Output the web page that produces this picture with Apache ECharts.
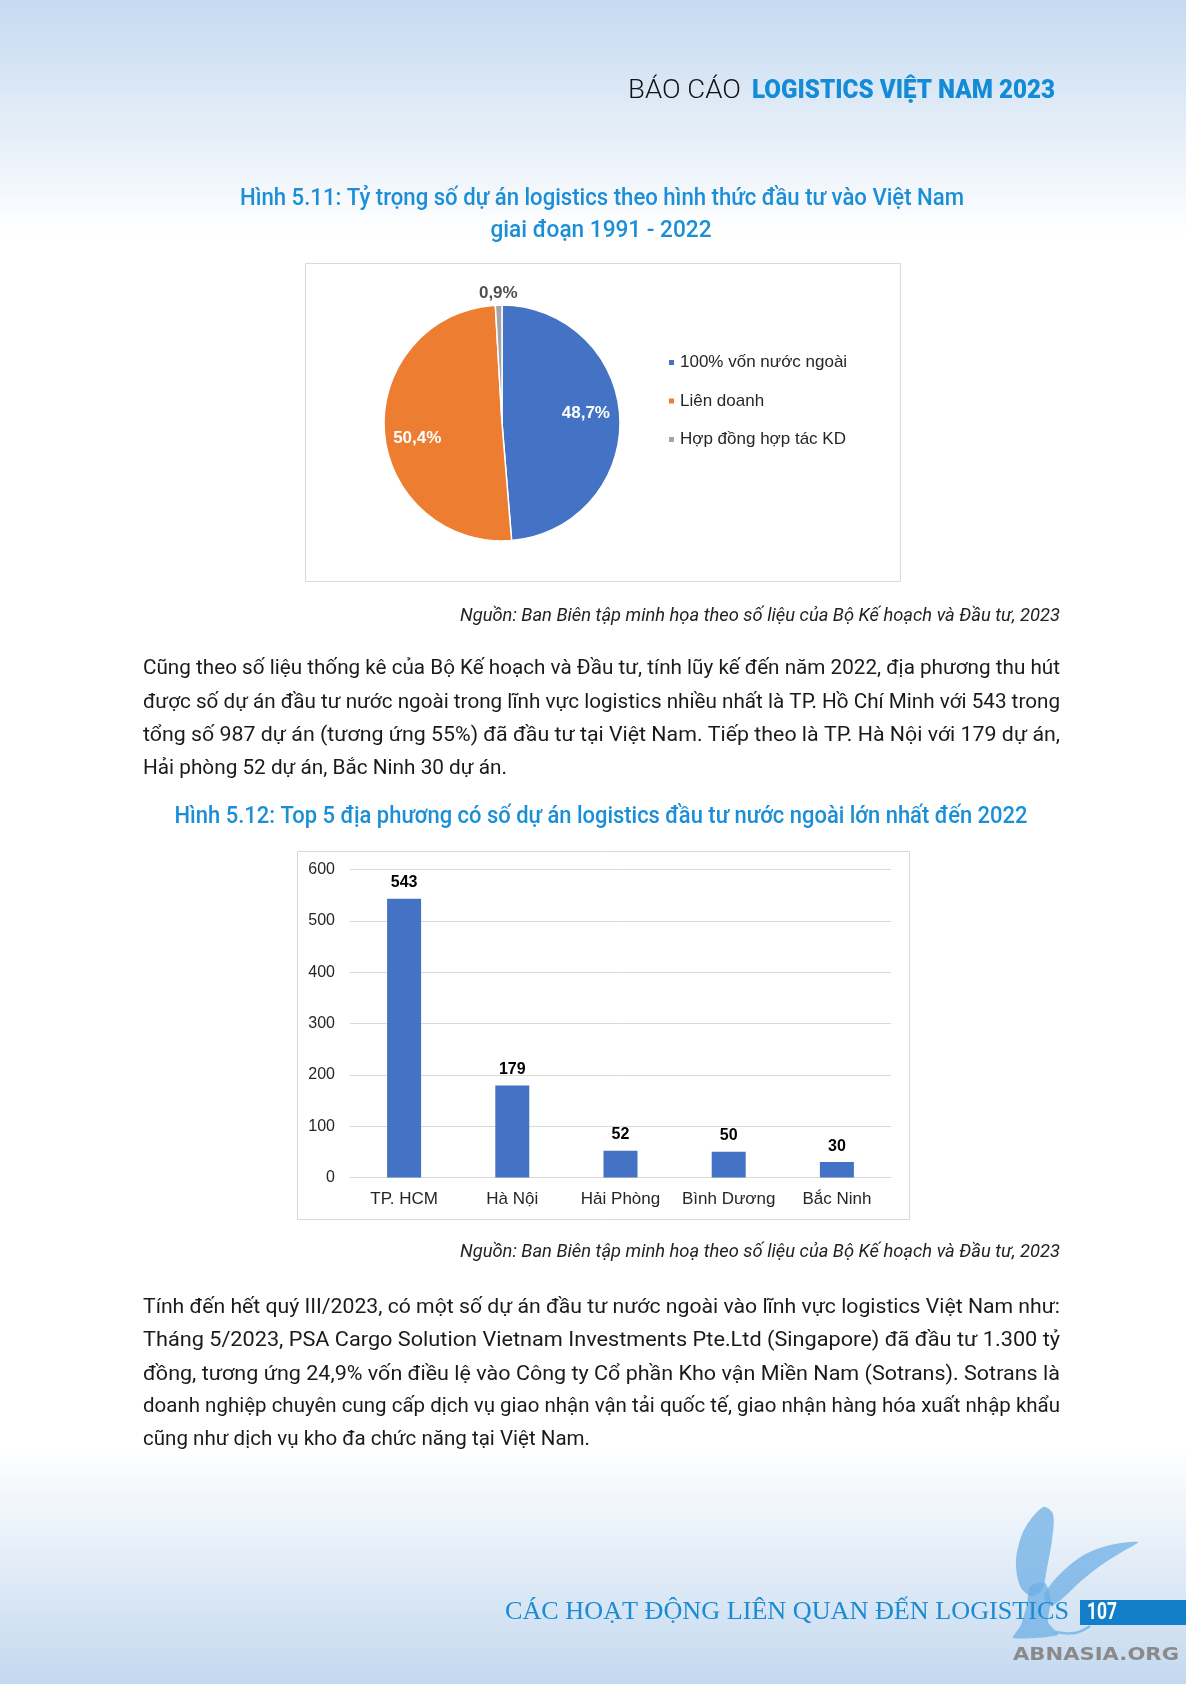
<!DOCTYPE html>
<html><head><meta charset="utf-8">
<script src="https://cdn.jsdelivr.net/npm/echarts@6/dist/echarts.min.js"></script>
<style>html,body{margin:0;padding:0;background:#fff;} #c{width:1186px;height:1684px;}</style>
</head><body><div id="c"></div>
<script>
// ---------- DATA ----------
const pieNames = ['100% vốn nước ngoài', 'Liên doanh', 'Hợp đồng hợp tác KD'];
const pieValues = [48.7, 50.4, 0.9];
const pieColors = ['#4472c4', '#ed7d31', '#a5a5a5'];

const barCategories = ['TP. HCM', 'Hà Nội', 'Hải Phòng', 'Bình Dương', 'Bắc Ninh'];
const barValues = [543, 179, 52, 50, 30];
const yAxisMin = 0, yAxisMax = 600, yAxisStep = 100;

const headerLight = 'BÁO CÁO';
const headerBold = 'LOGISTICS VIỆT NAM 2023';
const title511 = ['Hình 5.11: Tỷ trọng số dự án logistics theo hình thức đầu tư vào Việt Nam', 'giai đoạn 1991 - 2022'];
const title512 = 'Hình 5.12: Top 5 địa phương có số dự án logistics đầu tư nước ngoài lớn nhất đến 2022';
const source1 = 'Nguồn: Ban Biên tập minh họa theo số liệu của Bộ Kế hoạch và Đầu tư, 2023';
const source2 = 'Nguồn: Ban Biên tập minh hoạ theo số liệu của Bộ Kế hoạch và Đầu tư, 2023';
const para1Lines = [
  'Cũng theo số liệu thống kê của Bộ Kế hoạch và Đầu tư, tính lũy kế đến năm 2022, địa phương thu hút',
  'được số dự án đầu tư nước ngoài trong lĩnh vực logistics nhiều nhất là TP. Hồ Chí Minh với 543 trong',
  'tổng số 987 dự án (tương ứng 55%) đã đầu tư tại Việt Nam. Tiếp theo là TP. Hà Nội với 179 dự án,',
  'Hải phòng 52 dự án, Bắc Ninh 30 dự án.'
];
const para2Lines = [
  'Tính đến hết quý III/2023, có một số dự án đầu tư nước ngoài vào lĩnh vực logistics Việt Nam như:',
  'Tháng 5/2023, PSA Cargo Solution Vietnam Investments Pte.Ltd (Singapore) đã đầu tư 1.300 tỷ',
  'đồng, tương ứng 24,9% vốn điều lệ vào Công ty Cổ phần Kho vận Miền Nam (Sotrans). Sotrans là',
  'doanh nghiệp chuyên cung cấp dịch vụ giao nhận vận tải quốc tế, giao nhận hàng hóa xuất nhập khẩu',
  'cũng như dịch vụ kho đa chức năng tại Việt Nam.'
];
const footerText = 'CÁC HOẠT ĐỘNG LIÊN QUAN ĐẾN LOGISTICS';
const pageNumber = '107';
const watermark = 'ABNASIA.ORG';

// ---------- helpers ----------
const mctx = document.createElement('canvas').getContext('2d');
function measure(t, f) {
  mctx.font = (f.style || 'normal') + ' ' + (f.weight || 'normal') + ' ' + f.size + 'px ' + f.family;
  return mctx.measureText(t).width;
}
function fitText(t, x, y, w, f, color, align) {
  const m = measure(t, f);
  return {
    type: 'text', x: x, y: y, scaleX: w / m, silent: true, z: 10,
    style: { text: t, fill: color, fontSize: f.size, fontFamily: f.family, fontWeight: f.weight || 'normal',
      fontStyle: f.style || 'normal', align: align || 'left', verticalAlign: 'middle' }
  };
}
const fmtPct = v => v.toFixed(1).replace('.', ',') + '%';

// ---------- graphics ----------
const TEXT_L = 143, TEXT_R = 1060, TEXT_W = TEXT_R - TEXT_L;
const bodyFont = { family: 'Roboto', size: 21, weight: 400 };
const titleFont = { family: 'Roboto', size: 23, weight: 500 };
const srcFont = { family: 'Roboto', size: 18, weight: 400, style: 'italic' };
const blue = '#1a8ed6';

const g = [];
// boxes
g.push({ type: 'rect', shape: { x: 305.5, y: 263.5, width: 595, height: 318 }, style: { fill: '#fff', stroke: '#d9d9d9', lineWidth: 1 }, z: -1, silent: true });
g.push({ type: 'rect', shape: { x: 297.5, y: 851.5, width: 612, height: 368 }, style: { fill: '#fff', stroke: '#d9d9d9', lineWidth: 1 }, z: -1, silent: true });

// header
g.push(fitText(headerLight, 628, 92, 113, { family: 'Roboto', size: 25, weight: 300 }, '#111', 'left'));
g.push(fitText(headerBold, 752, 92, 303, { family: 'Roboto', size: 25, weight: 900 }, '#138bd6', 'left'));

// titles
g.push(fitText(title511[0], 602, 199, 724, titleFont, blue, 'center'));
g.push(fitText(title511[1], 601, 231, 221, titleFont, blue, 'center'));
g.push(fitText(title512, 601, 817, 853, titleFont, blue, 'center'));

// sources
g.push(fitText(source1, TEXT_R, 616, 600, srcFont, '#222', 'right'));
g.push(fitText(source2, TEXT_R, 1252, 600, srcFont, '#222', 'right'));

// paragraphs
const p1Y = [669, 702.5, 736, 769];
const p1W = [TEXT_W, TEXT_W, TEXT_W, 364];
para1Lines.forEach((t, i) => g.push(fitText(t, TEXT_L, p1Y[i], p1W[i], bodyFont, '#1a1a1a', 'left')));
const p2Y = [1307.5, 1341, 1374.5, 1407, 1440];
const p2W = [TEXT_W, TEXT_W, TEXT_W, TEXT_W, 447];
para2Lines.forEach((t, i) => g.push(fitText(t, TEXT_L, p2Y[i], p2W[i], bodyFont, '#1a1a1a', 'left')));

// griffin decoration (approximate)
const griffinStyle = { fill: 'rgba(110,175,228,0.75)' };
g.push({ type: 'polygon', silent: true, z: 5, style: griffinStyle, shape: { smooth: 0.3, points: [[1043,1507],[1053,1514],[1052,1540],[1047,1568],[1042,1590],[1031,1596],[1020,1586],[1016,1560],[1024,1530]] } });
g.push({ type: 'polygon', silent: true, z: 5, style: griffinStyle, shape: { smooth: 0.3, points: [[1138,1542],[1122,1552],[1100,1566],[1080,1582],[1063,1598],[1050,1606],[1044,1596],[1058,1576],[1082,1556],[1110,1545]] } });
g.push({ type: 'polygon', silent: true, z: 5, style: griffinStyle, shape: { smooth: 0.2, points: [[1030,1586],[1045,1583],[1051,1600],[1048,1622],[1058,1635],[1013,1638],[1021,1625],[1027,1604]] } });
g.push({ type: 'polyline', silent: true, z: 5, style: { stroke: 'rgba(110,175,228,0.75)', lineWidth: 2.5, fill: null }, shape: { smooth: 0.4, points: [[1055,1632],[1075,1633],[1090,1626]] } });

// footer
g.push(fitText(footerText, 505, 1612, 564, { family: 'Liberation Serif', size: 26, weight: 400 }, '#1b8bd3', 'left'));
g.push({ type: 'rect', silent: true, z: 6, shape: { x: 1080, y: 1600, width: 106, height: 25 }, style: { fill: '#137fcb' } });
g.push(fitText(pageNumber, 1087, 1612.5, 30, { family: 'Roboto', size: 24, weight: 700 }, '#fff', 'left'));
g.push(fitText(watermark, 1013, 1656, 166, { family: 'DejaVu Sans', size: 17, weight: 700 }, '#8a8a8a', 'left'));

// ---------- chart ----------
const chart = echarts.init(document.getElementById('c'), null, { renderer: 'canvas', width: 1186, height: 1684 });
const PIE_C = [502, 423], PIE_R = 118;
const pieData = pieNames.map((n, i) => ({ name: n, value: pieValues[i], itemStyle: { color: pieColors[i] } }));
const ghost = { color: 'rgba(0,0,0,0)', borderWidth: 0 };
const labelBase = { fontFamily: 'Liberation Sans', fontSize: 17, fontWeight: 'bold' };
const innerLabelNudge = [[-4, -6], [3, 9], [0, 0]];

chart.setOption({
  animation: false,
  backgroundColor: { type: 'linear', x: 0, y: 0, x2: 0, y2: 1, colorStops: [
    { offset: 0, color: '#c5daf0' }, { offset: 0.05, color: '#d9e7f5' }, { offset: 0.1, color: '#eef4fb' },
    { offset: 0.14, color: '#ffffff' }, { offset: 0.86, color: '#ffffff' }, { offset: 0.93, color: '#e2ecf7' },
    { offset: 1, color: '#c3d9ef' } ] },
  graphic: g,
  legend: {
    orient: 'vertical', left: 662, top: 349, itemWidth: 7, itemHeight: 7, itemGap: 21.5, icon: 'rect',
    selectedMode: false, data: pieNames,
    textStyle: { fontFamily: 'Liberation Sans', fontSize: 17, color: '#262626' }
  },
  grid: { left: 350, top: 869.5, width: 541, height: 308, containLabel: false },
  xAxis: {
    type: 'category', data: barCategories,
    axisLine: { show: true, lineStyle: { color: '#d9d9d9', width: 1 } },
    axisTick: { show: false },
    axisLabel: { interval: 0, margin: 13, fontFamily: 'Liberation Sans', fontSize: 17, color: '#262626' }
  },
  yAxis: {
    type: 'value', min: yAxisMin, max: yAxisMax, interval: yAxisStep,
    axisLine: { show: false }, axisTick: { show: false },
    axisLabel: { margin: 15, fontFamily: 'Liberation Sans', fontSize: 16, color: '#262626' },
    splitLine: { lineStyle: { color: '#d9d9d9', width: 1 } }
  },
  series: [
    {
      type: 'pie', center: PIE_C, radius: [0, PIE_R], startAngle: 90, clockwise: true,
      data: pieData, label: { show: false }, labelLine: { show: false },
      itemStyle: { borderColor: '#fff', borderWidth: 1.5 }, emphasis: { disabled: true }, silent: true
    },
    {
      type: 'pie', center: PIE_C, radius: [PIE_R * 0.44, PIE_R], startAngle: 90, clockwise: true, silent: true,
      emphasis: { disabled: true }, itemStyle: ghost, labelLine: { show: false },
      data: pieNames.map((n, i) => ({ name: n, value: pieValues[i], itemStyle: ghost,
        label: { show: i < 2, position: 'inside', offset: innerLabelNudge[i], formatter: fmtPct(pieValues[i]), color: '#fff', ...labelBase } }))
    },
    {
      type: 'pie', center: PIE_C, radius: [PIE_R, PIE_R * 1.155], startAngle: 90, clockwise: true, silent: true,
      emphasis: { disabled: true }, itemStyle: ghost, labelLine: { show: false },
      data: pieNames.map((n, i) => ({ name: n, value: pieValues[i], itemStyle: ghost,
        label: { show: i === 2, position: 'inside', formatter: fmtPct(pieValues[i]), color: '#505050', ...labelBase } }))
    },
    {
      type: 'bar', data: barValues, barWidth: 34, itemStyle: { color: '#4472c4' }, silent: true,
      label: { show: true, position: 'top', distance: 8, fontFamily: 'Liberation Sans', fontSize: 16, fontWeight: 'bold', color: '#000' }
    }
  ]
});
</script>
</body></html>
